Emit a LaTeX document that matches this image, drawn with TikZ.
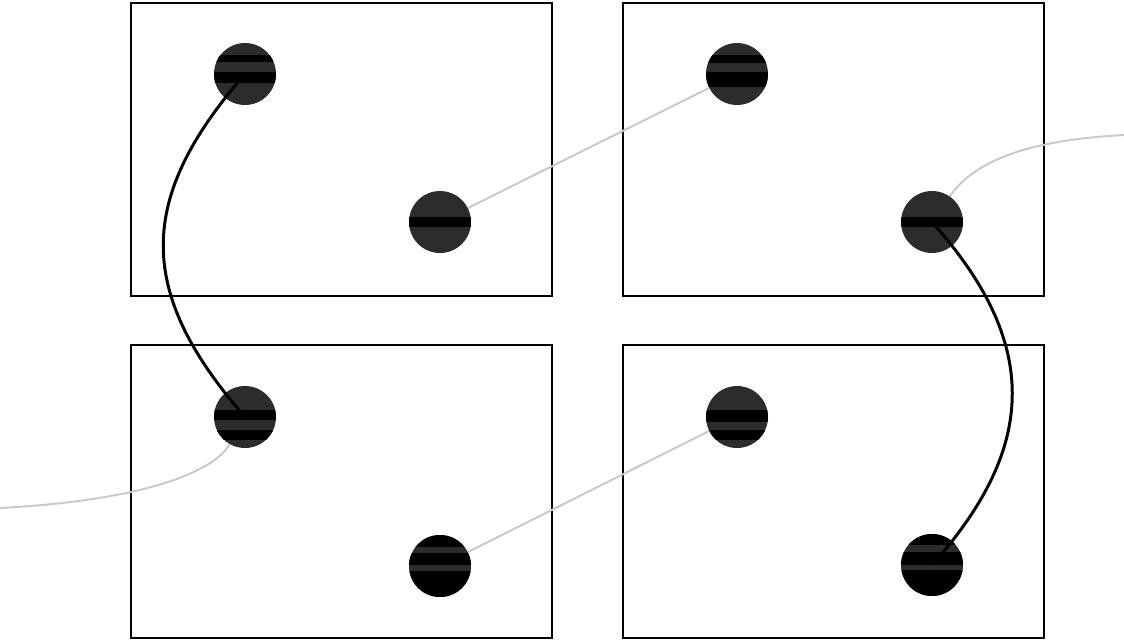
\documentclass[tikz,border=0pt]{standalone}
\usepackage{tikz}
\usetikzlibrary{positioning}
\definecolor{pegcol}{HTML}{2C2C2C}
\definecolor{threadcol}{HTML}{C8C8C8}
\tikzset{
  board/.style={rectangle, draw=black, line width=1.5pt, minimum width=8.42cm, minimum height=5.86cm, inner sep=0pt},
  peg/.style={circle, fill=pegcol, minimum size=1.24cm, inner sep=0pt},
  bands/.style={path picture={\foreach \a/\b in {#1} \fill[black] ([shift={(-40,\a)}]path picture bounding box.center) rectangle ([shift={(40,\b)}]path picture bounding box.center);}},
  wire/.style={line width=1.7pt, draw=black},
  thread/.style={line width=1.1pt, draw=threadcol}
}
\begin{document}
\begin{tikzpicture}[x=0.02cm, y=-0.02cm]
        \useasboundingbox (0,0) rectangle (1124,643);
        % boards
        \node (tl) [board] at (341.5,149.5) {};
        \node (tr) [board] at (833.5,149.5) {};
        \node (bl) [board] at (341.5,491.5) {};
        \node (br) [board] at (833.5,491.5) {};

        % pegs
        \node (a) [peg, bands={-19/-12,-2/9}] at (245,74) {};
        \node (b) [peg, bands={-5/5}] at (440,222) {};
        \node (c) [peg, bands={-19/-11,-2/13}] at (737,74) {};
        \node (d) [peg, bands={-5/5}] at (932,222) {};
        \node (e) [peg, bands={-7/3,13/23}] at (245,417) {};
        \node (f) [peg, bands={-31/-19,-13/-1,5/31}] at (440,566) {};
        \node (g) [peg, bands={-7/5,13/23}] at (737,417) {};
        \node (h) [peg, bands={-31/-20,-13/0,5/31}] at (932,565) {};

        \coordinate (east end) at (1124,135);
        \coordinate (west end) at (0,508);

        % grey threads
        \draw [thread] (b) -- (c);
        \draw [thread] (f) -- (g);
        \draw [thread] (d) .. controls (975,160) and (1030,140) .. (east end);
        \draw [thread] (e) .. controls (215,470) and (150,500) .. (west end);

        % black wires
        \draw [wire] (a.center) .. controls (136,199) and (136,292) .. (e.center);
        \draw [wire] (d.center) .. controls (1039,342) and (1039,445) .. (h.center);
    \end{tikzpicture}
\end{document}
